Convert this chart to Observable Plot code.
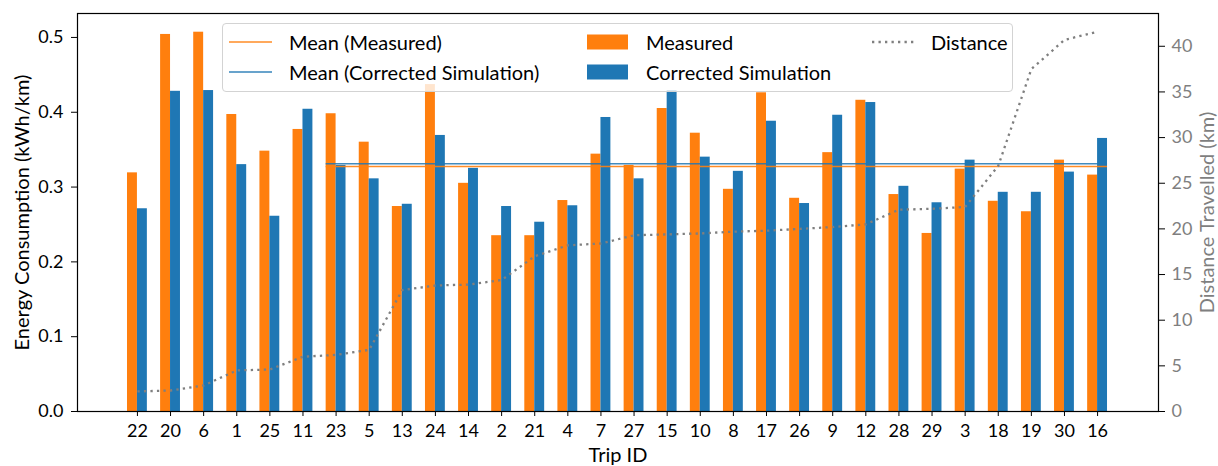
<!DOCTYPE html>
<html>
<head>
<meta charset="utf-8">
<script src="https://cdn.jsdelivr.net/npm/d3@7"></script>
<script src="https://cdn.jsdelivr.net/npm/@observablehq/plot@0.6"></script>
<style>
  body { margin: 0; background: #fff; }
  #chart { position: relative; width: 1218px; height: 466px; font-family: Lato, sans-serif; }
  #chart svg { position: absolute; left: 0; top: 0; }
  .legend { position: absolute; left: 222px; top: 23px; width: 791px; height: 69px;
            box-sizing: border-box; background: rgba(255,255,255,0.8);
            border: 1.5px solid #d3d3d3; border-radius: 4px; }
  .legend .item { position: absolute; font-size: 20px; line-height: 22px; color: #000; white-space: nowrap; }
  .legend svg { position: absolute; }
</style>
</head>
<body>
<div id="chart"></div>
<script>
// Trips ordered by distance travelled
const trips = [22, 20, 6, 1, 25, 11, 23, 5, 13, 24, 14, 2, 21, 4, 7, 27, 15, 10, 8, 17, 26, 9, 12, 28, 29, 3, 18, 19, 30, 16];
// Energy consumption per trip (kWh/km)
const measured = [0.319, 0.504, 0.507, 0.397, 0.348, 0.377, 0.398, 0.360, 0.274, 0.437,
                  0.305, 0.235, 0.235, 0.282, 0.344, 0.329, 0.405, 0.372, 0.297, 0.426,
                  0.285, 0.346, 0.416, 0.290, 0.238, 0.324, 0.281, 0.267, 0.336, 0.316];
const simulated = [0.271, 0.428, 0.429, 0.330, 0.261, 0.404, 0.329, 0.311, 0.277, 0.369,
                   0.325, 0.274, 0.253, 0.275, 0.393, 0.311, 0.429, 0.340, 0.321, 0.388,
                   0.278, 0.396, 0.413, 0.301, 0.279, 0.336, 0.293, 0.293, 0.320, 0.365];
// Distance travelled per trip (km)
const distanceKm = [2.2, 2.3, 2.85, 4.5, 4.6, 6.0, 6.2, 6.75, 13.3, 13.8,
                    13.9, 14.4, 17.0, 18.2, 18.4, 19.3, 19.4, 19.5, 19.7, 19.8,
                    20.0, 20.2, 20.5, 22.1, 22.2, 22.4, 26.9, 37.5, 40.7, 41.6];
// Mean consumption over the trips from trip 23 onwards
const meanMeasured = 0.3274;
const meanSimulated = 0.3311;
const meanFromTrip = 23;

const energyTicks = [0, 0.1, 0.2, 0.3, 0.4, 0.5];
const distanceTicks = [0, 5, 10, 15, 20, 25, 30, 35, 40];

const ORANGE = "#ff7f0e", BLUE = "#1f77b4", GRAY = "#7f7f7f";
const DOTS = "2.3,4.2";
const idx = d3.range(trips.length);
const barW = 0.3;
const yMax = 0.532, kmMax = 43.59;
const km = v => v * yMax / kmMax; // distance expressed in left-axis units (twin axis)
const meanStart = trips.indexOf(meanFromTrip) - barW;
const meanEnd = trips.length - 1 + barW;

const chart = Plot.plot({
  width: 1218,
  height: 466,
  marginLeft: 77,
  marginRight: 60,
  marginTop: 13,
  marginBottom: 55,
  style: { fontFamily: "Lato, sans-serif", fontSize: "18px", color: "#000", background: "#fff" },
  x: { type: "linear", domain: [-1.81, trips.length - 1 + 1.84] },
  y: { domain: [0, yMax] },
  marks: [
    Plot.rectY(idx, { x1: i => i - barW, x2: i => i, y1: 0, y2: i => measured[i], fill: ORANGE }),
    Plot.rectY(idx, { x1: i => i, x2: i => i + barW, y1: 0, y2: i => simulated[i], fill: BLUE }),
    Plot.ruleY([meanSimulated], { x1: meanStart, x2: meanEnd, stroke: BLUE, strokeWidth: 1.6, strokeOpacity: 0.85 }),
    Plot.ruleY([meanMeasured], { x1: meanStart, x2: meanEnd, stroke: ORANGE, strokeWidth: 1.6, strokeOpacity: 0.9 }),
    Plot.frame({ stroke: "#000", strokeWidth: 1.2 }),
    Plot.line(idx, { x: i => i, y: i => km(distanceKm[i]), stroke: GRAY, strokeWidth: 2.3,
                     strokeDasharray: DOTS, strokeLinecap: "butt" }),
    Plot.axisX({ ticks: idx, tickFormat: i => trips[i], tickSize: 5, tickPadding: 8, label: null }),
    Plot.axisY({ ticks: energyTicks, tickFormat: d3.format(".1f"), tickSize: 6, tickPadding: 8, label: null }),
    Plot.axisY({ anchor: "right", ticks: distanceTicks.map(km), tickFormat: v => String(Math.round(v * kmMax / yMax)),
                 tickSize: 6, tickPadding: 7, label: null, stroke: "#000", fill: GRAY }),
    Plot.text(["Energy Consumption (kWh/km)"], { frameAnchor: "left", textAnchor: "middle", dx: -55, rotate: -90,
                                                 fill: "#000", fontSize: 20 }),
    Plot.text(["Distance Travelled (km)"], { frameAnchor: "right", textAnchor: "middle", dx: 49, rotate: -90,
                                             fill: GRAY, fontSize: 20 }),
    Plot.text(["Trip ID"], { frameAnchor: "bottom", lineAnchor: "middle", dy: 44, fill: "#000", fontSize: 20 })
  ]
});

const root = document.getElementById("chart");
root.appendChild(chart);

// Legend box (positions relative to the chart container)
const legend = document.createElement("div");
legend.className = "legend";
root.appendChild(legend);

const legendItems = [
  { label: "Mean (Measured)", kind: "line", color: ORANGE, col: 0, row: 0 },
  { label: "Mean (Corrected Simulation)", kind: "line", color: BLUE, col: 0, row: 1 },
  { label: "Measured", kind: "patch", color: ORANGE, col: 1, row: 0 },
  { label: "Corrected Simulation", kind: "patch", color: BLUE, col: 1, row: 1 },
  { label: "Distance", kind: "dots", color: GRAY, col: 2, row: 0 }
];
const colX = [6, 364, 649];   // swatch left edge inside the legend
const textX = [66, 423, 708];
const rowY = [18, 48];        // row centre inside the legend

for (const it of legendItems) {
  const cy = rowY[it.row];
  const sw = document.createElementNS("http://www.w3.org/2000/svg", "svg");
  sw.setAttribute("width", 44);
  sw.setAttribute("height", 18);
  sw.style.left = colX[it.col] + "px";
  sw.style.top = (cy - 9) + "px";
  if (it.kind === "patch") {
    sw.innerHTML = `<rect x="0" y="1.5" width="41" height="15" fill="${it.color}"/>`;
  } else if (it.kind === "line") {
    sw.innerHTML = `<line x1="0" x2="43" y1="9" y2="9" stroke="${it.color}" stroke-width="1.6" stroke-opacity="0.9"/>`;
  } else {
    sw.innerHTML = `<line x1="0" x2="43" y1="9" y2="9" stroke="${it.color}" stroke-width="2.3" stroke-dasharray="${DOTS}"/>`;
  }
  legend.appendChild(sw);
  const t = document.createElement("div");
  t.className = "item";
  t.textContent = it.label;
  t.style.left = textX[it.col] + "px";
  t.style.top = (cy - 11) + "px";
  legend.appendChild(t);
}
</script>
</body>
</html>
